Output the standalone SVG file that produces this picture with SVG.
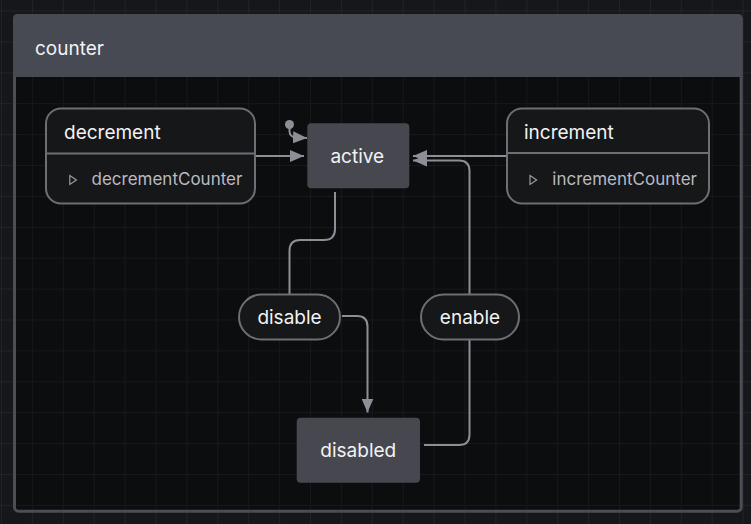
<svg xmlns="http://www.w3.org/2000/svg" width="751" height="524" viewBox="0 0 751 524">
  <defs>
    <pattern id="gridOut" patternUnits="userSpaceOnUse" x="1" y="10.5" width="30.9" height="30.9">
      <rect width="30.9" height="30.9" fill="#16171a"/>
      <path d="M0.5 0V30.9M0 0.5H30.9" stroke="#222327" stroke-width="1" fill="none"/>
    </pattern>
    <pattern id="gridIn" patternUnits="userSpaceOnUse" x="1" y="10.5" width="30.9" height="30.9">
      <rect width="30.9" height="30.9" fill="#0c0d0f"/>
      <path d="M0.5 0V30.9M0 0.5H30.9" stroke="#17181b" stroke-width="1" fill="none"/>
    </pattern>
    <marker id="arrow" viewBox="0 0 14 12" refX="14" refY="6" markerWidth="14" markerHeight="12" markerUnits="userSpaceOnUse" orient="auto">
      <path d="M0 0L14 6L0 12z" fill="#8d8e96"/>
    </marker>
  </defs>
  <style>
    .t { font-family: Inter, "Liberation Sans", sans-serif; fill: #f2f2f4; }
    .title { font-size: 19px; }
    .act { font-size: 17px; fill: #b9bac2; }
    .edge { fill: none; stroke: #8d8e96; stroke-width: 2; }
    .box { fill: #161719; stroke: #6d6e76; stroke-width: 2; }
    .solid { fill: #47484f; }
    .tri { fill: none; stroke: #9a9ba3; stroke-width: 1.2; }
  </style>
  <rect width="751" height="524" fill="url(#gridOut)"/>

  <g id="counter">
    <rect x="14.5" y="15.5" width="726.7" height="495.7" rx="4" fill="url(#gridIn)" stroke="#4c4d57" stroke-width="3"/>
    <path d="M13 77V18.5A4.5 4.5 0 0 1 17.5 14H738.2A4.5 4.5 0 0 1 742.7 18.5V77Z" fill="#474953"/>
    <text class="t" x="35" y="55" font-size="19">counter</text>
  </g>

  <g id="connectors">
    <circle cx="289.5" cy="124.5" r="4.5" fill="#8d8e96"/>
    <path class="edge" d="M289.5 126V131Q289.5 137 296 137.5L307 138" marker-end="url(#arrow)"/>
    <path class="edge" d="M45 156H304" marker-end="url(#arrow)"/>
    <path class="edge" d="M507 156H413" marker-end="url(#arrow)"/>
    <path class="edge" d="M424 445H459Q469.5 445 469.5 434.5V339"/>
    <path class="edge" d="M469.5 294V171Q469.5 160.5 459 160.5H413" marker-end="url(#arrow)"/>
    <path class="edge" d="M335 192V229Q335 240 324 240H300Q289.5 240 289.5 251V294"/>
    <path class="edge" d="M342 316H357Q367.5 316 367.5 326.5V412.5" marker-end="url(#arrow)"/>
  </g>

  <g id="decrement">
    <rect class="box" x="46" y="108.5" width="209" height="95" rx="15"/>
    <path d="M46 153.5H255" stroke="#6d6e76" stroke-width="2"/>
    <text class="t title" x="64" y="138.5">decrement</text>
    <path class="tri" d="M69.8 175.6L76.4 180L69.8 184.4Z"/>
    <text class="t act" x="91.5" y="185">decrementCounter</text>
  </g>

  <g id="increment">
    <rect class="box" x="507" y="108.5" width="202" height="95" rx="15"/>
    <path d="M507 153H709" stroke="#6d6e76" stroke-width="2"/>
    <text class="t title" x="524" y="138.5">increment</text>
    <path class="tri" d="M530 175.6L536.6 180L530 184.4Z"/>
    <text class="t act" x="552.3" y="185">incrementCounter</text>
  </g>

  <g id="active">
    <rect class="solid" x="307.3" y="123.3" width="102" height="65" rx="4"/>
    <text class="t title" x="357.3" y="163" text-anchor="middle">active</text>
  </g>

  <g id="disable">
    <rect class="box" x="239" y="294.5" width="101" height="45" rx="22.5"/>
    <text class="t title" x="289.5" y="324" text-anchor="middle">disable</text>
  </g>

  <g id="enable">
    <rect class="box" x="421" y="294.5" width="98" height="45" rx="22.5"/>
    <text class="t title" x="470" y="324" text-anchor="middle">enable</text>
  </g>

  <g id="disabled">
    <rect class="solid" x="296.7" y="417.7" width="123.3" height="65" rx="4"/>
    <text class="t title" x="358.3" y="457" text-anchor="middle">disabled</text>
  </g>
</svg>
